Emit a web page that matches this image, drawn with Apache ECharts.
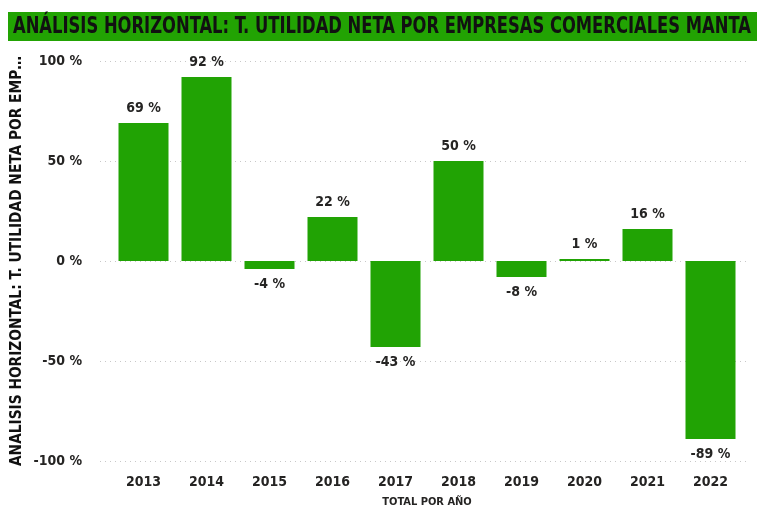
<!DOCTYPE html>
<html>
<head>
<meta charset="utf-8">
<style>
  html, body { margin: 0; padding: 0; background: #fff; }
  #chart { width: 760px; height: 505px; }
</style>
<script src="https://cdn.jsdelivr.net/npm/echarts@6/dist/echarts.min.js"></script>
</head>
<body>
<div id="chart"></div>
<script>
var years = ['2013', '2014', '2015', '2016', '2017', '2018', '2019', '2020', '2021', '2022'];
var pctValues = [69, 92, -4, 22, -43, 50, -8, 1, 16, -89];
var yTicks = [-100, -50, 0, 50, 100];

var titleText = 'ANÁLISIS HORIZONTAL: T. UTILIDAD NETA POR EMPRESAS COMERCIALES MANTA';
var yName = 'ANALISIS HORIZONTAL: T. UTILIDAD NETA POR EMP…';
var xName = 'TOTAL POR AÑO';

var green = '#21a304';
var ink = '#252423';
var condensed = '"Liberation Sans Narrow", "DejaVu Sans Condensed", "Roboto", sans-serif';

var chart = echarts.init(document.getElementById('chart'));

chart.setOption({
  animation: false,
  graphic: [
    {
      type: 'rect',
      shape: { x: 8, y: 12, width: 749, height: 29 },
      style: { fill: '#22a303' },
      z: 0
    },
    {
      type: 'text',
      x: 13,
      y: 27,
      scaleY: 1.25,
      style: {
        text: titleText,
        fontFamily: condensed,
        fontWeight: 'bold',
        fontSize: 18.2,
        fill: '#111',
        verticalAlign: 'middle'
      },
      z: 1
    }
  ],
  grid: [
    { left: 112, right: 18, top: 61, bottom: 44, outerBoundsMode: 'none' },
    { left: 100, right: 10, top: 61, bottom: 44, outerBoundsMode: 'none' }
  ],
  xAxis: [
    {
      type: 'category',
      gridIndex: 0,
      data: years,
      axisLine: { show: false },
      axisTick: { show: false },
      axisLabel: {
        margin: 14,
        fontFamily: condensed,
        fontWeight: 'bold',
        fontSize: 14,
        color: ink
      },
      name: xName,
      nameLocation: 'middle',
      nameGap: 36,
      nameTextStyle: {
        fontFamily: condensed,
        fontWeight: 'bold',
        fontSize: 11,
        color: ink
      }
    },
    { type: 'value', gridIndex: 1, show: false, min: 0, max: 1 }
  ],
  yAxis: [
    {
      type: 'value',
      gridIndex: 0,
      min: -100,
      max: 100,
      interval: 50,
      axisLine: { show: false },
      axisTick: { show: false },
      axisLabel: { show: false },
      splitLine: { show: false },
      name: yName,
      nameLocation: 'middle',
      nameRotate: 90,
      nameGap: 87,
      nameTextStyle: {
        fontFamily: condensed,
        fontWeight: 'bold',
        fontSize: 15.3,
        color: '#111'
      }
    },
    {
      type: 'value',
      gridIndex: 1,
      min: -100,
      max: 100,
      interval: 50,
      axisLine: { show: false },
      axisTick: { show: false },
      axisLabel: {
        margin: 18,
        fontFamily: condensed,
        fontWeight: 'bold',
        fontSize: 14,
        color: ink,
        formatter: function (v) { return yTicks.indexOf(v) >= 0 ? v + ' %' : ''; }
      },
      splitLine: {
        show: true,
        lineStyle: { color: '#c8c8c8', type: [1, 4], width: 1 }
      }
    }
  ],
  series: [
    {
      type: 'bar',
      xAxisIndex: 0,
      yAxisIndex: 0,
      data: pctValues.map(function (v) {
        return {
          value: v,
          label: { position: v >= 0 ? 'top' : 'bottom' }
        };
      }),
      barWidth: 50,
      itemStyle: { color: green },
      z: 3,
      label: {
        show: true,
        distance: 8,
        fontFamily: condensed,
        fontWeight: 'bold',
        fontSize: 14,
        color: ink,
        formatter: function (p) { return p.value + ' %'; }
      }
    }
  ]
});
</script>
</body>
</html>
